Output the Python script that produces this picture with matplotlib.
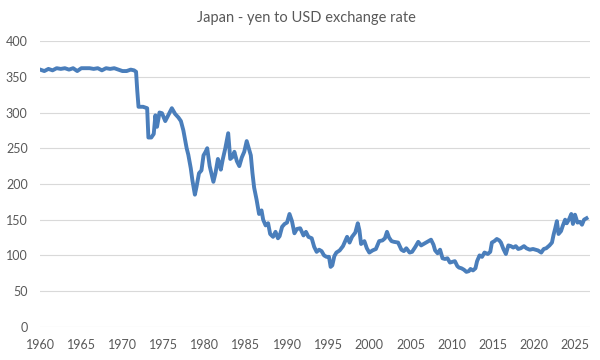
import matplotlib
matplotlib.use("Agg")
import matplotlib.pyplot as plt
import numpy as np

# yen per USD (year as decimal)
years = [1960.0, 1960.5, 1961.0, 1961.5, 1962.0, 1962.5, 1963.0, 1963.5, 1964.0, 1964.5,
         1965.0, 1965.5, 1966.0, 1966.5, 1967.0, 1967.5, 1968.0, 1968.5, 1969.0, 1969.5,
         1970.0, 1970.5, 1971.0, 1971.4, 1971.65, 1971.8, 1971.95, 1972.5, 1973.0, 1973.15,
         1973.5, 1973.8, 1974.0, 1974.2, 1974.5, 1974.8, 1975.2, 1975.6, 1976.0, 1976.4,
         1976.8, 1977.1, 1977.4, 1977.8, 1978.0, 1978.3, 1978.5, 1978.8, 1979.0, 1979.3,
         1979.6, 1979.85, 1980.1, 1980.3, 1980.6, 1980.9, 1981.05, 1981.3, 1981.6, 1981.8,
         1981.95, 1982.2, 1982.5, 1982.85, 1983.1, 1983.4, 1983.6, 1983.9, 1984.2, 1984.5,
         1984.8, 1985.1, 1985.3, 1985.6, 1985.8, 1986.0, 1986.3, 1986.6, 1986.9, 1987.1,
         1987.4, 1987.7, 1987.95, 1988.3, 1988.6, 1988.9, 1989.1, 1989.4, 1989.7, 1990.0,
         1990.3, 1990.6, 1990.9, 1991.2, 1991.6, 1992.0, 1992.3, 1992.6, 1993.0, 1993.3,
         1993.6, 1993.9, 1994.2, 1994.5, 1994.8, 1995.1, 1995.3, 1995.5, 1995.75, 1996.0,
         1996.4, 1996.8, 1997.1, 1997.3, 1997.6, 1997.9, 1998.3, 1998.6, 1998.8, 1999.0,
         1999.4, 1999.7, 2000.0, 2000.4, 2000.8, 2001.2, 2001.6, 2001.9, 2002.15, 2002.4,
         2002.7, 2003.0, 2003.5, 2003.9, 2004.2, 2004.5, 2004.9, 2005.2, 2005.6, 2005.95,
         2006.3, 2006.6, 2006.9, 2007.2, 2007.5, 2007.8, 2008.0, 2008.3, 2008.6, 2008.9,
         2009.2, 2009.5, 2009.8, 2010.1, 2010.4, 2010.7, 2010.9, 2011.2, 2011.5, 2011.8,
         2012.1, 2012.3, 2012.6, 2012.9, 2013.1, 2013.4, 2013.7, 2014.0, 2014.4, 2014.7,
         2014.9, 2015.2, 2015.5, 2015.8, 2016.0, 2016.3, 2016.6, 2016.9, 2017.2, 2017.5,
         2017.8, 2018.1, 2018.4, 2018.8, 2019.1, 2019.5, 2019.9, 2020.2, 2020.5, 2020.9,
         2021.2, 2021.5, 2021.9, 2022.2, 2022.4, 2022.6, 2022.8, 2023.0, 2023.3, 2023.5,
         2023.8, 2024.0, 2024.3, 2024.55, 2024.75, 2025.0, 2025.3, 2025.6, 2025.85, 2026.1,
         2026.4]
rates = [360, 358, 361, 359, 362, 361, 362, 360, 362, 358,
         362, 362, 362, 361, 362, 359, 362, 361, 362, 360,
         358, 358, 360, 359, 357, 330, 308, 308, 306, 265,
         265, 270, 296, 280, 300, 299, 288, 297, 306, 298,
         293, 288, 275, 250, 241, 222, 205, 185, 196, 215,
         219, 240, 245, 250, 225, 210, 203, 215, 235, 228,
         220, 235, 250, 271, 235, 238, 245, 232, 225, 237,
         245, 260, 252, 240, 215, 195, 178, 158, 163, 150,
         142, 145, 130, 126, 133, 124, 127, 140, 144, 146,
         158, 148, 131, 137, 138, 128, 133, 126, 124, 112,
         105, 108, 106, 100, 98, 98, 84, 86, 99, 104,
         107, 113, 121, 126, 118, 126, 132, 145, 135, 116,
         120, 110, 104, 107, 109, 120, 121, 124, 133, 125,
         120, 119, 118, 108, 106, 110, 104, 105, 112, 119,
         114, 116, 118, 120, 122, 115, 107, 103, 108, 96,
         95, 96, 90, 91, 92, 85, 83, 82, 80, 77,
         78, 81, 79, 82, 92, 100, 98, 104, 102, 105,
         118, 120, 123, 121, 118, 109, 102, 114, 113, 111,
         113, 109, 110, 113, 110, 108, 109, 108, 107, 104,
         109, 110, 114, 118, 129, 138, 148, 130, 134, 141,
         150, 145, 151, 158, 144, 157, 146, 147, 143, 150,
         152]

yticks = np.arange(0, 401, 50)
xticks = np.arange(1960, 2026, 5)

plt.rcParams['font.family'] = ['Lato', 'DejaVu Sans']
grey = '#595959'

fig = plt.figure(figsize=(6, 3.6), dpi=100)
ax = fig.add_axes([0.067, 0.092, 0.916, 0.794])

ax.plot(years, rates, color='#4A7EBB', lw=2.8, solid_joinstyle='round')

ax.set_ylim(0, 400)
ax.set_xlim(1960, 2026.8)
ax.set_yticks(yticks)
ax.set_xticks(xticks)
ax.grid(axis='y', color='#D9D9D9', lw=0.8)
ax.set_axisbelow(True)
for s in ax.spines.values():
    s.set_visible(False)
ax.tick_params(length=0, labelsize=9, colors=grey)
ax.tick_params(axis='y', pad=9)
ax.tick_params(axis='x', pad=9)

fig.suptitle('Japan - yen to USD exchange rate', x=0.51, y=0.97, fontsize=10.5, color=grey)

fig.savefig('out.png', dpi=100)
